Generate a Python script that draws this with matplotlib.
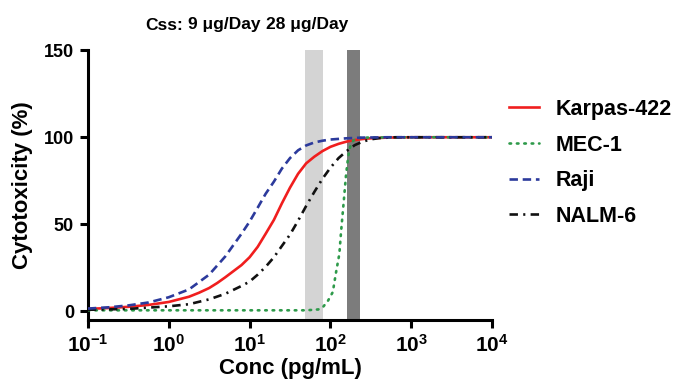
import matplotlib
matplotlib.use("Agg")
import matplotlib.pyplot as plt
from matplotlib.ticker import FixedLocator, NullLocator

plt.rcParams['font.family'] = ['Liberation Sans', 'DejaVu Sans']
plt.rcParams['font.weight'] = 'bold'
plt.rcParams['mathtext.fontset'] = 'custom'
plt.rcParams['mathtext.rm'] = 'Liberation Sans:bold'
plt.rcParams['mathtext.bf'] = 'Liberation Sans:bold'
plt.rcParams['mathtext.it'] = 'Liberation Sans:bold'
plt.rcParams['mathtext.default'] = 'bf'

# Data (concentration in pg/mL, cytotoxicity in %)
karpas_x = [0.1, 0.178, 0.316, 0.562, 1.0, 1.78, 2.37, 3.16, 3.98, 5.01, 7.94, 10.0, 12.6, 15.8,
            20.0, 25.1, 31.6, 39.8, 50.1, 63.1, 79.4, 100, 126, 158, 200, 251, 316, 501, 1000, 3162, 10000]
karpas_y = [1.3, 1.8, 2.5, 3.6, 5.3, 8.3, 10.6, 13.3, 16.2, 19.5, 26.5, 31.0, 37.0, 44.5,
            52.5, 62.0, 71.0, 79.0, 85.0, 88.8, 92.0, 94.5, 96.2, 97.5, 98.4, 99.0, 99.4, 99.8, 100, 100, 100]

mec1_x = [0.1, 1.0, 10.0, 50.1, 70.8, 81.3, 93.3, 107, 117, 129, 135, 141, 148, 155,
          162, 170, 178, 191, 209, 251, 1000, 10000]
mec1_y = [0.5, 0.5, 0.5, 0.5, 1.0, 2.5, 6.0, 11.0, 22.0, 33.0, 45.0, 55.0, 66.0, 77.0,
          85.0, 92.0, 95.5, 98.0, 99.3, 99.8, 100, 100]

raji_x = [0.1, 0.178, 0.316, 0.562, 1.0, 1.78, 3.16, 5.01, 7.94, 10.0, 12.6, 15.8,
          20.0, 25.1, 31.6, 39.8, 50.1, 63.1, 79.4, 100, 158, 251, 501, 10000]
raji_y = [1.5, 2.2, 3.3, 5.0, 8.0, 12.5, 21.0, 31.5, 44.5, 51.5, 59.5, 67.5,
          74.5, 82.0, 88.0, 92.5, 95.3, 97.0, 98.0, 98.7, 99.4, 99.8, 100, 100]

nalm6_x = [0.1, 0.316, 1.0, 1.78, 3.16, 5.01, 7.94, 10.0, 12.6, 15.8, 20.0, 25.1,
           31.6, 39.8, 50.1, 63.1, 79.4, 100, 126, 158, 200, 251, 316, 398, 631, 10000]
nalm6_y = [0.8, 1.3, 2.8, 4.0, 6.8, 10.0, 14.5, 17.0, 21.0, 25.5, 31.0, 37.5,
           44.0, 52.0, 60.5, 68.5, 76.0, 82.5, 88.0, 92.0, 95.5, 97.5, 98.8, 99.5, 100, 100]

band_9 = (49, 82)      # Css 9 ug/Day range (pg/mL)
band_28 = (162, 229)   # Css 28 ug/Day range (pg/mL)

xticks = [0.1, 1, 10, 100, 1000, 10000]
xticklabels = [r'$10^{-1}$', r'$10^{0}$', r'$10^{1}$',
               r'$10^{2}$', r'$10^{3}$', r'$10^{4}$']
yticks = [0, 50, 100, 150]

fig = plt.figure(figsize=(6.76, 3.84), dpi=100)
ax = fig.add_axes([0.130, 0.167, 0.598, 0.702])

ax.axvspan(*band_9, color='#d4d4d4', lw=0, zorder=1)
ax.axvspan(*band_28, color='#7c7c7c', lw=0, zorder=1)

lw = 1.9
ax.plot(karpas_x, karpas_y, color='#f01e1e', lw=lw, ls='-', label='Karpas-422', zorder=3)
ax.plot(mec1_x, mec1_y, color='#2e9a4a', lw=lw, ls=(0, (0.6, 2.2)), dash_capstyle='round',
        label='MEC-1', zorder=3)
ax.plot(raji_x, raji_y, color='#2c3a9c', lw=lw, ls=(0, (3.2, 1.8)), label='Raji', zorder=4)
ax.plot(nalm6_x, nalm6_y, color='#111111', lw=lw, ls=(0, (3.2, 2.0, 0.8, 2.0)),
        label='NALM-6', zorder=3)

ax.set_xscale('log')
ax.set_xlim(0.1, 10000)
ax.set_ylim(-5, 150)
ax.xaxis.set_major_locator(FixedLocator(xticks))
ax.xaxis.set_minor_locator(NullLocator())
ax.set_xticklabels(xticklabels)
ax.set_yticks(yticks)
ax.set_yticklabels([str(v) for v in yticks])

for s in ['top', 'right']:
    ax.spines[s].set_visible(False)
for s in ['left', 'bottom']:
    ax.spines[s].set_linewidth(2.2)
ax.tick_params(axis='both', which='major', width=2.2, length=6, pad=4)
ax.tick_params(axis='x', labelsize=15)
ax.tick_params(axis='y', labelsize=13)

ax.set_xlabel('Conc (pg/mL)', fontsize=16, fontweight='bold', labelpad=2)
ax.set_ylabel('Cytotoxicity (%)', fontsize=16, fontweight='bold', labelpad=8)

ty = 1 - 25 / 384
fig.text(164 / 676, ty, 'Css:', fontsize=12.5, fontweight='bold', ha='center', va='center')
fig.text(224 / 676, ty, '9 μg/Day', fontsize=12.5, fontweight='bold', ha='center', va='center')
fig.text(307 / 676, ty, '28 μg/Day', fontsize=12.5, fontweight='bold', ha='center', va='center')

leg = fig.legend(loc='upper left', bbox_to_anchor=(509 / 676, 1 - 99 / 384), frameon=False,
                 fontsize=15.5, handlelength=1.4, handletextpad=0.75, labelspacing=0.68,
                 borderaxespad=0, borderpad=0)
for t in leg.get_texts():
    t.set_fontweight('bold')

fig.savefig('out.png', dpi=100)
